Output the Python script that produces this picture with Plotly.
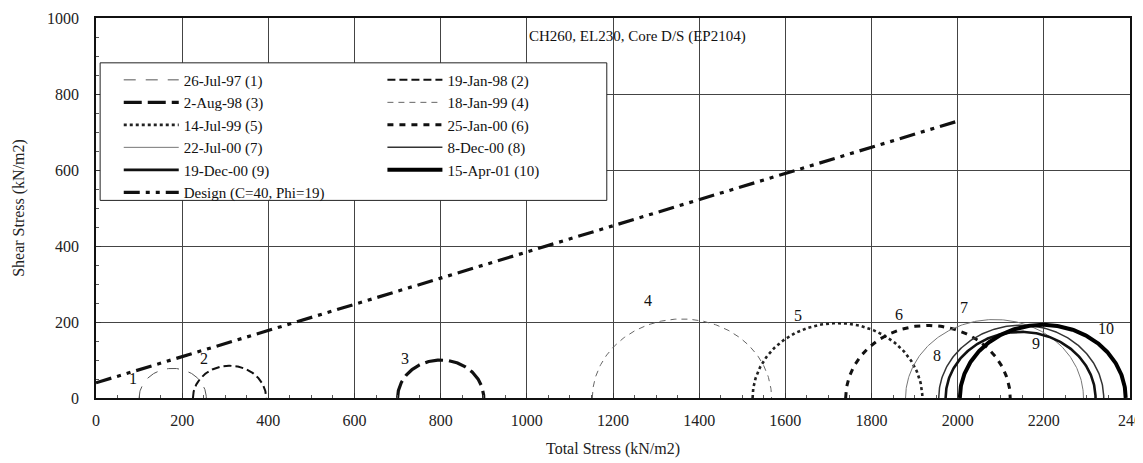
import numpy as np
import plotly.graph_objects as go

# ---------------- data ----------------
circle_names = ["26-Jul-97 (1)", "19-Jan-98 (2)", "2-Aug-98 (3)", "18-Jan-99 (4)",
                "14-Jul-99 (5)", "25-Jan-00 (6)", "22-Jul-00 (7)", "8-Dec-00 (8)",
                "19-Dec-00 (9)", "15-Apr-01 (10)"]
circle_labels = ["1", "2", "3", "4", "5", "6", "7", "8", "9", "10"]
sigma_min = [100, 225, 700, 1152, 1524, 1740, 1879, 1956, 1972, 2005]   # kN/m2
sigma_max = [256, 395, 900, 1568, 1918, 2122, 2292, 2339, 2320, 2390]   # kN/m2
label_x = [86, 251, 718, 1282, 1630, 1863, 2014, 1953, 2181, 2344]
label_y = [51, 104, 104, 256, 216, 219, 237, 112, 144, 184]

design_name = "Design (C=40, Phi=19)"
design_c = 40
design_phi = 19
design_sigma = [0, 2000]

x_tickvals = [0, 200, 400, 600, 800, 1000, 1200, 1400, 1600, 1800, 2000, 2200, 2400]
x_ticktext = ["0", "200", "400", "600", "800", "1000", "1200", "1400", "1600", "1800",
              "2000", "2200", "240"]
y_tickvals = [0, 200, 400, 600, 800, 1000]

# ---------------- styles ----------------
styles = [
    dict(color="#555555", width=1.0, dash="12px,10px"),
    dict(color="#111111", width=2.0, dash="8px,4px"),
    dict(color="#111111", width=3.2, dash="18px,6px"),
    dict(color="#666666", width=1.0, dash="6px,5px"),
    dict(color="#222222", width=2.6, dash="dot"),
    dict(color="#111111", width=3.0, dash="6px,6px"),
    dict(color="#777777", width=1.0, dash="solid"),
    dict(color="#333333", width=1.5, dash="solid"),
    dict(color="#111111", width=2.6, dash="solid"),
    dict(color="#000000", width=4.0, dash="solid"),
]
legend_of = ["legend", "legend2"] * 5

fig = go.Figure()

theta = np.linspace(np.pi, 0, 181)
for i in range(len(circle_names)):
    c = (sigma_min[i] + sigma_max[i]) / 2
    r = (sigma_max[i] - sigma_min[i]) / 2
    fig.add_trace(go.Scatter(
        x=c + r * np.cos(theta), y=r * np.sin(theta), mode="lines",
        name=circle_names[i], line=styles[i], legend=legend_of[i],
        hoverinfo="skip"))

dx = np.array(design_sigma, dtype=float)
fig.add_trace(go.Scatter(
    x=dx, y=design_c + dx * np.tan(np.radians(design_phi)), mode="lines",
    name=design_name, legend="legend",
    line=dict(color="#111111", width=3.2, dash="16px,6px,4px,6px,4px,6px")))

serif = "Liberation Serif"
for i in range(len(circle_labels)):
    fig.add_annotation(x=label_x[i], y=label_y[i], text=circle_labels[i],
                       showarrow=False, font=dict(family=serif, size=16, color="#111"))

fig.add_annotation(x=1257, y=952, text="CH260, EL230, Core D/S (EP2104)",
                   showarrow=False, font=dict(family=serif, size=15, color="#111"))

# legend box
fig.add_shape(type="rect", xref="paper", yref="paper", x0=0.004, x1=0.494,
              y0=0.52, y1=0.882, fillcolor="white", line=dict(color="#222", width=1),
              layer="above")

axis_common = dict(
    showline=True, linecolor="#111", linewidth=1.5, mirror=True,
    showgrid=True, gridcolor="#444", gridwidth=1, zeroline=False,
    ticks="inside", ticklen=5, tickcolor="#333",
    minor=dict(ticks="inside", ticklen=3, tickcolor="#555", dtick=50, showgrid=False),
    tickfont=dict(family=serif, size=16, color="#222"),
)

# page body has an 8px offset; margins compensate so the plot area sits at 96..1130 x 18..398
fig.update_layout(
    width=1143, height=463,
    margin=dict(l=88, r=21, t=10, b=73, autoexpand=False),
    paper_bgcolor="white", plot_bgcolor="white",
    xaxis=dict(range=[0, 2400], tickvals=x_tickvals, ticktext=x_ticktext,
               ticklabelstandoff=7,
               title=dict(text="Total Stress (kN/m2)", standoff=15,
                          font=dict(family=serif, size=16, color="#222")),
               **axis_common),
    yaxis=dict(range=[0, 1000], tickvals=y_tickvals, ticklabelstandoff=12,
               title=dict(text="Shear Stress (kN/m2)", standoff=18,
                          font=dict(family=serif, size=16, color="#222")),
               **axis_common),
    legend=dict(x=0.022, y=0.88, xanchor="left", yanchor="top",
                bgcolor="rgba(0,0,0,0)", borderwidth=0, itemwidth=55,
                font=dict(family=serif, size=15, color="#111"), tracegroupgap=0),
    legend2=dict(x=0.277, y=0.88, xanchor="left", yanchor="top",
                 bgcolor="rgba(0,0,0,0)", borderwidth=0, itemwidth=55,
                 font=dict(family=serif, size=15, color="#111"), tracegroupgap=0),
    showlegend=True,
)

fig.write_html("out.html")
